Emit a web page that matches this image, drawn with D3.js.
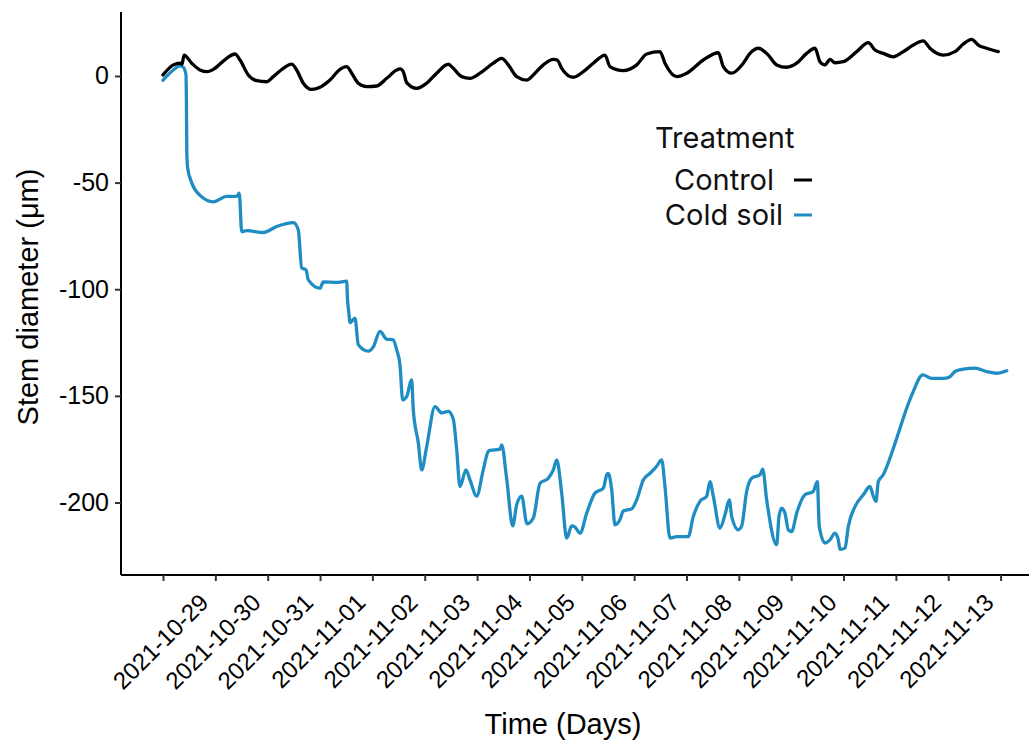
<!DOCTYPE html>
<html>
<head>
<meta charset="utf-8">
<script src="https://cdn.jsdelivr.net/npm/d3@7"></script>
<style>
  html, body { margin: 0; padding: 0; background: #fff; }
  svg { display: block; }
</style>
</head>
<body>
<svg id="chart" width="1029" height="743"></svg>
<script>
// ---------------- DATA ----------------
const startDate = "2021-10-28T00:00:00";
// time offsets in days from startDate, and stem diameter change (µm)
const controlDays = [0.0,0.197,0.325,0.363,0.401,0.548,0.707,0.846,0.961,1.217,1.375,1.471,1.629,1.790,1.981,2.107,2.298,2.458,2.554,2.680,2.840,2.999,3.190,3.381,3.509,3.605,3.731,3.891,4.082,4.273,4.464,4.53,4.590,4.655,4.846,5.037,5.228,5.450,5.545,5.706,5.864,6.055,6.309,6.470,6.596,6.757,6.948,7.074,7.265,7.456,7.530,7.616,7.838,8.029,8.220,8.443,8.539,8.793,9.049,9.240,9.494,9.589,9.813,10.004,10.321,10.608,10.703,10.863,11.085,11.213,11.372,11.563,11.723,11.914,12.105,12.296,12.455,12.550,12.646,12.741,12.837,12.995,13.251,13.473,13.601,13.759,13.950,14.141,14.332,14.523,14.651,14.905,15.129,15.288,15.448,15.574,15.734,15.956];
const controlValues = [0.5,5.2,6,5.5,9.8,6,2.8,2,3.1,8.3,10.3,7.5,0.5,-2.2,-2.7,-0.3,3.6,5.6,2.8,-3.4,-6.3,-5.3,-1.9,3.1,4.4,1.3,-3.4,-5,-4.7,-1.1,2.8,3.3,2,-3.1,-5.8,-3.4,1.3,5.5,3.6,-0.3,-1.1,1.3,6,8.3,5.2,-0.3,-1.9,0.5,5.2,7.8,7.5,3.6,-0.6,2,6,9.8,4.4,2.5,5.2,10.3,11.4,6,-0.3,1.3,7.5,10.9,4.4,1.3,6,10.6,13,9.8,5.2,4.1,6,10.6,13,6.7,5.2,7.8,6.2,6.7,11.4,15.6,12.2,10.6,9,11.4,14.5,16.5,13,9.8,11.4,15,17.2,14.5,13,11.4];

const coldDays = [0.0,0.197,0.325,0.388,0.439,0.447,0.455,0.470,0.548,0.707,0.961,1.217,1.408,1.457,1.503,1.599,1.916,2.172,2.489,2.585,2.649,2.732,2.776,2.999,3.062,3.318,3.509,3.525,3.548,3.572,3.668,3.731,3.922,4.018,4.146,4.273,4.399,4.464,4.527,4.579,4.655,4.751,4.781,4.877,4.942,5.037,5.196,5.324,5.450,5.545,5.610,5.673,5.788,5.864,5.992,6.118,6.214,6.246,6.437,6.470,6.566,6.680,6.757,6.852,6.953,7.074,7.202,7.360,7.456,7.521,7.616,7.712,7.807,7.870,7.966,8.094,8.252,8.411,8.476,8.506,8.571,8.634,8.730,8.793,8.953,9.049,9.175,9.303,9.431,9.526,9.589,9.685,9.813,10.034,10.130,10.258,10.386,10.449,10.512,10.640,10.736,10.818,10.864,10.990,11.055,11.150,11.246,11.404,11.456,11.532,11.723,11.767,11.818,11.881,11.945,12.010,12.105,12.264,12.422,12.499,12.537,12.646,12.741,12.837,12.900,12.932,13.028,13.091,13.219,13.378,13.505,13.568,13.620,13.664,13.759,13.920,14.079,14.206,14.332,14.512,14.684,14.905,15.033,15.129,15.288,15.511,15.734,15.925,16.117];
const coldValues = [-2,2.8,4.7,4.1,0.5,-11,-36,-43,-50,-56,-59,-56.5,-56.5,-55,-73,-72.5,-73.4,-70.6,-68.8,-72.2,-90,-91,-95.6,-99.5,-96.6,-96.8,-96.2,-105,-110.5,-115.6,-113.6,-126,-129,-127,-119.8,-123.4,-123.7,-128.4,-135.5,-151.9,-150.3,-142.5,-156.6,-172,-184.7,-173.8,-155,-158,-157.3,-161,-175,-192.5,-184.7,-189.4,-197,-184.7,-176,-175.6,-175,-173,-189,-211,-201,-197,-210,-207.3,-191,-188.6,-184.7,-180,-195.6,-216.7,-211,-211.5,-214.4,-205,-195.6,-193.3,-187,-186.3,-194,-210.5,-208,-204,-203,-198.8,-189.4,-186.3,-183,-180,-192.5,-216.7,-216,-216,-206.6,-199.5,-197,-190.2,-197,-212,-205.8,-198.8,-206.6,-212.8,-211,-194.8,-188.6,-187,-184.4,-198.8,-219.8,-206.6,-202.7,-205,-212.8,-213.6,-205,-196.4,-194.8,-190.2,-211.3,-219,-217.5,-214.4,-217.5,-222,-221.4,-211.3,-201.9,-196.4,-192.5,-197,-199.5,-190.2,-187,-176.9,-165.2,-155.8,-148,-140.2,-141.8,-141.8,-141,-138.6,-137.5,-137,-138.6,-139.4,-138.2];

const seriesNames = ["Control", "Cold soil"];
const seriesColors = ["#000000", "#1f8cc2"];
const yTicks = [0, -50, -100, -150, -200];
const xTickLabels = ["", "2021-10-29","2021-10-30","2021-10-31","2021-11-01","2021-11-02","2021-11-03","2021-11-04","2021-11-05","2021-11-06","2021-11-07","2021-11-08","2021-11-09","2021-11-10","2021-11-11","2021-11-12","2021-11-13"];
const yDomain = [-234, 30];

// ---------------- CHART ----------------
(function () {
const svg = d3.select("#chart");
const t0 = new Date(startDate);
const toDate = d => new Date(t0.getTime() + d * 86400000);

const mLeft = 121, mRight = 1029, mTop = 12, mBottom = 575;
const x = d3.scaleTime()
  .domain([toDate(-0.8023), toDate(16.543)])
  .range([mLeft, mRight]);
const y = d3.scaleLinear().domain(yDomain).range([mBottom, mTop]);

const series = [
  { name: seriesNames[0], color: seriesColors[0], pts: controlDays.map((d, i) => ({ t: toDate(d), v: controlValues[i] })) },
  { name: seriesNames[1], color: seriesColors[1], pts: coldDays.map((d, i) => ({ t: toDate(d), v: coldValues[i] })) }
];

const line = d3.line().x(d => x(d.t)).y(d => y(d.v)).curve(d3.curveMonotoneX);

svg.append("g").selectAll("path")
  .data([series[1], series[0]])
  .join("path")
  .attr("d", d => line(d.pts))
  .attr("fill", "none")
  .attr("stroke", d => d.color)
  .attr("stroke-width", 3.3)
  .attr("stroke-linejoin", "round")
  .attr("stroke-linecap", "round");

// axes
const xTickDates = xTickLabels.map((_, i) => toDate(i));
const xAxis = d3.axisBottom(x)
  .tickValues(xTickDates)
  .tickFormat((d, i) => xTickLabels[i])
  .tickSizeOuter(0).tickSizeInner(6).tickPadding(4);
const gx = svg.append("g").attr("transform", `translate(0,${mBottom})`).call(xAxis);
gx.select(".domain").attr("stroke", "#000").attr("stroke-width", 2).attr("d", `M${mLeft},0H${mRight}`);
gx.selectAll(".tick line").attr("stroke", "#333").attr("stroke-width", 2);
gx.selectAll(".tick text")
  .attr("font-family", "Liberation Sans, Arial, sans-serif")
  .attr("font-size", 24)
  .attr("fill", "#000")
  .attr("text-anchor", "end")
  .attr("x", 0).attr("y", 0)
  .attr("dy", "0.71em")
  .attr("transform", "translate(-18,17) rotate(-45)");

const yAxis = d3.axisLeft(y).tickValues(yTicks).tickFormat(d3.format("d"))
  .tickSizeOuter(0).tickSizeInner(6).tickPadding(6);
const gy = svg.append("g").attr("transform", `translate(${mLeft},0)`).call(yAxis);
gy.select(".domain").attr("stroke", "#000").attr("stroke-width", 2).attr("d", `M0,${mTop}V${mBottom}`);
gy.selectAll(".tick line").attr("stroke", "#333").attr("stroke-width", 2);
gy.selectAll(".tick text")
  .attr("font-family", "Liberation Sans, Arial, sans-serif")
  .attr("font-size", 25)
  .attr("fill", "#000")
  .text(d => d < 0 ? "-" + Math.abs(d) : d);

// axis titles
svg.append("text")
  .attr("x", 563).attr("y", 734)
  .attr("text-anchor", "middle")
  .attr("font-family", "Liberation Sans, Arial, sans-serif")
  .attr("font-size", 29)
  .text("Time (Days)");
svg.append("text")
  .attr("transform", "translate(38,297) rotate(-90)")
  .attr("text-anchor", "middle")
  .attr("font-family", "Liberation Sans, Arial, sans-serif")
  .attr("font-size", 29)
  .text("Stem diameter (μm)");

// legend
const lg = svg.append("g").attr("font-family", "Inter, Lato, sans-serif").attr("fill", "#111");
lg.append("text").attr("x", 655).attr("y", 148).attr("font-size", 29).text("Treatment");
const rows = lg.selectAll("g.row").data(series).join("g")
  .attr("transform", (d, i) => `translate(0,${180 + i * 35})`);
rows.append("text").attr("x", 724).attr("y", 0).attr("dy", "0.35em")
  .attr("text-anchor", "middle").attr("font-size", 29).text(d => d.name);
rows.append("line").attr("x1", 794).attr("x2", 812).attr("y1", 0).attr("y2", 0)
  .attr("stroke", d => d.color).attr("stroke-width", 3);
})();
</script>
</body>
</html>
